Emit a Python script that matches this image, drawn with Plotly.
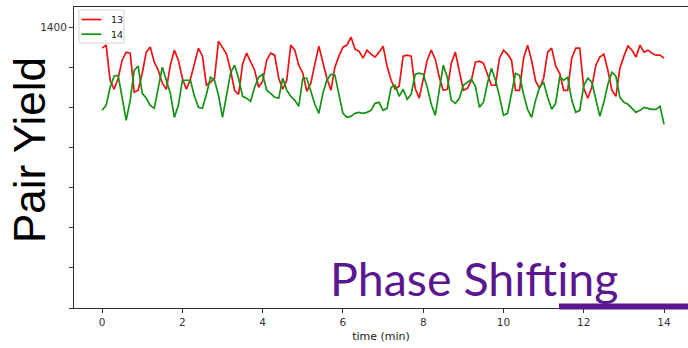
import numpy as np
import plotly.graph_objects as go

# Sample times (minutes), one reading every 0.1 min
time_min = np.round(np.arange(0, 141) * 0.1, 1)

# Pair yield for channel 13
yield_13 = [
    1295, 1310, 1135, 1090, 1145, 1235, 1275, 1270, 1075, 1085,
    1170, 1275, 1300, 1225, 1185, 1120, 1090, 1210, 1285, 1235,
    1145, 1090, 1140, 1215, 1295, 1255, 1110, 1125, 1145, 1330,
    1295, 1265, 1185, 1085, 1065, 1215, 1270, 1225, 1185, 1100,
    1130, 1235, 1270, 1260, 1145, 1090, 1135, 1310, 1285, 1210,
    1170, 1080, 1120, 1215, 1305, 1225, 1145, 1085, 1200, 1255,
    1300, 1310, 1350, 1290, 1280, 1245, 1285, 1265, 1250, 1275,
    1305, 1205, 1135, 1090, 1105, 1255, 1260, 1255, 1095, 1045,
    1140, 1235, 1285, 1240, 1150, 1085, 1090, 1220, 1275, 1185,
    1085, 1095, 1135, 1225, 1230, 1220, 1160, 1110, 1110, 1245,
    1285, 1265, 1235, 1085, 1085, 1245, 1310, 1235, 1130, 1095,
    1145, 1275, 1295, 1205, 1170, 1085, 1085, 1245, 1295, 1295,
    1095, 1045, 1100, 1210, 1250, 1265, 1185, 1085, 1055, 1195,
    1255, 1305, 1285, 1250, 1310, 1275, 1285, 1270, 1260, 1260,
    1245,
]

# Pair yield for channel 14
yield_14 = [
    985, 1010, 1100, 1155, 1160, 1045, 935, 1035, 1185, 1205,
    1070, 1045, 1010, 995, 1105, 1200, 1135, 1070, 950, 1010,
    1135, 1135, 1135, 1055, 1000, 995, 1065, 1150, 1135, 1060,
    950, 1060, 1170, 1210, 1145, 1055, 1045, 1030, 1100, 1150,
    1165, 1085, 1070, 1050, 1045, 1145, 1085, 1055, 1035, 1005,
    1145, 1145, 1085, 1015, 970, 1070, 1135, 1165, 1160, 1060,
    970, 950, 955, 970, 975, 970, 975, 985, 1020, 1025,
    985, 995, 1100, 1110, 1055, 1090, 1040, 1065, 1165, 1170,
    1165, 1100, 1015, 960, 1090, 1210, 1150, 1035, 1020, 1045,
    1110, 1125, 1140, 1105, 1000, 1025, 1120, 1195, 1135, 1055,
    960, 970, 1070, 1170, 1160, 1065, 990, 950, 1035, 1100,
    1125, 1050, 990, 1020, 1150, 1135, 1150, 1035, 975, 985,
    1110, 1145, 1125, 1035, 955, 1025, 1115, 1175, 1155, 1050,
    1025, 1015, 995, 975, 985, 1000, 995, 990, 990, 1005,
    915,
]

series_names = ["13", "14"]
series_colors = ["#ec1313", "#149314"]

x_ticks = [0, 2, 4, 6, 8, 10, 12, 14]
y_ticks = [0, 200, 400, 600, 800, 1000, 1200, 1400]
y_tick_text = ["", "", "", "", "", "", "", "1400"]

W, H = 688, 348
ML, MT, MB, MR = 74, 7, 40, 0
plot_w = W - ML - MR
plot_h = H - MT - MB

tick_font = dict(family="DejaVu Sans", size=10.5, color="#333333")

fig = go.Figure()
for name, vals, col in zip(series_names, [yield_13, yield_14], series_colors):
    fig.add_trace(go.Scatter(x=time_min, y=vals, mode="lines", name=name,
                             line=dict(color=col, width=1.7), showlegend=False))


def px_x(p):
    return (p - ML) / plot_w


def px_y(p):
    return (MT + plot_h - p) / plot_h


fig.update_layout(
    width=W, height=H,
    margin=dict(l=ML, r=MR, t=MT, b=MB, pad=0),
    paper_bgcolor="white", plot_bgcolor="white",
    xaxis=dict(range=[-0.70, -0.70 + plot_w / 40.14], tickvals=x_ticks,
               ticks="outside", ticklen=4, tickwidth=1, tickcolor="#333333",
               showline=True, linecolor="#2a2a2a", linewidth=1, mirror=True,
               showgrid=False, zeroline=False, tickfont=tick_font,
               title=dict(text="time (min)", font=dict(family="DejaVu Sans", size=11, color="#222222"),
                          standoff=5)),
    yaxis=dict(range=[0, 1500], tickvals=y_ticks, ticktext=y_tick_text,
               ticks="outside", ticklen=4, tickwidth=1, tickcolor="#333333",
               showline=True, linecolor="#2a2a2a", linewidth=1,
               showgrid=False, zeroline=False, tickfont=tick_font),
)

# Compact legend box in the upper-left corner
fig.add_shape(type="rect", xref="paper", yref="paper",
              x0=px_x(79), x1=px_x(124), y0=px_y(43), y1=px_y(10),
              fillcolor="white", line=dict(color="#d4d4d4", width=1), layer="above")
for i, (name, col) in enumerate(zip(series_names, series_colors)):
    ly = 19.5 + 14.7 * i
    fig.add_shape(type="line", xref="paper", yref="paper",
                  x0=px_x(81.5), x1=px_x(101.5), y0=px_y(ly), y1=px_y(ly),
                  line=dict(color=col, width=1.7), layer="above")
    fig.add_annotation(text=name, xref="paper", yref="paper",
                       x=px_x(109), y=px_y(ly), xanchor="left", yanchor="middle",
                       showarrow=False,
                       font=dict(family="DejaVu Sans", size=9.5, color="#222222"))

# Large slide captions
fig.add_annotation(text="Pair Yield", xref="paper", yref="paper",
                   x=px_x(29), y=px_y(150), xanchor="center", yanchor="middle",
                   textangle=-90, showarrow=False,
                   font=dict(family="Liberation Sans", size=44, color="black"))
fig.add_annotation(text="Phase Shifting", xref="paper", yref="paper",
                   x=px_x(328), y=px_y(278), xanchor="left", yanchor="middle",
                   showarrow=False,
                   font=dict(family="Lato", size=46.5, color="#5b1790"))

# Purple underline bar at the lower right
fig.add_shape(type="rect", xref="paper", yref="paper",
              x0=px_x(559), x1=px_x(690), y0=px_y(309.5), y1=px_y(303.5),
              fillcolor="#5b1790", line=dict(width=0), layer="above")

fig.write_html("out.html")
